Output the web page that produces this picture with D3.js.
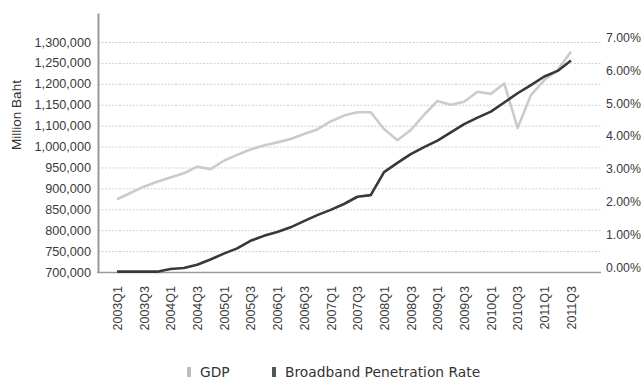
<!DOCTYPE html>
<html>
<head>
<meta charset="utf-8">
<script src="https://cdn.jsdelivr.net/npm/d3@7"></script>
<style>
  body { margin: 0; background: #fff; }
  svg { display: block; }
  .tick text { font-family: "Liberation Sans", Arial, sans-serif; }
</style>
</head>
<body>
<svg class="chart"></svg>
<script>
// quarters 2003Q1 .. 2011Q3
var quarters = ["2003Q1","2003Q2","2003Q3","2003Q4","2004Q1","2004Q2","2004Q3","2004Q4",
  "2005Q1","2005Q2","2005Q3","2005Q4","2006Q1","2006Q2","2006Q3","2006Q4",
  "2007Q1","2007Q2","2007Q3","2007Q4","2008Q1","2008Q2","2008Q3","2008Q4",
  "2009Q1","2009Q2","2009Q3","2009Q4","2010Q1","2010Q2","2010Q3","2010Q4",
  "2011Q1","2011Q2","2011Q3"];

// GDP, million baht
var gdp = [874000, 889000, 904000, 916000, 926000, 936000, 952000, 946000,
  966000, 980000, 993000, 1005000, 1020000, 1036000, 1060000, 1082000,
  1110000, 1124000, 1132000, 1132000, 1084000, 1030000, 1079000, 1126000,
  1159000, 1150000, 1157000, 1181000, 1176000, 1201000, 1089000, 1173000,
  1209000, 1233000, 1277000];

// broadband penetration rate, %
var broadband = [0.01, 0.01, 0.01, 0.01, 0.09, 0.12, 0.22, 0.38,
  0.56, 0.72, 0.95, 1.10, 1.22, 1.36, 1.55, 1.73,
  1.89, 2.07, 2.29, 2.34, 3.04, 3.32, 3.59, 3.80,
  4.00, 4.25, 4.50, 4.70, 4.88, 5.16, 5.44, 5.69,
  5.95, 6.12, 6.44];

// left axis labels as printed (no 1,050,000 in the original)
var gdpTicks = [700000, 750000, 800000, 850000, 900000, 950000, 1000000,
  1100000, 1150000, 1200000, 1250000, 1300000];
var rateTicks = [0, 1, 2, 3, 4, 5, 6, 7];
var xTicks = quarters.filter(function(d, i){ return i % 2 === 0; });

var legendItems = ["GDP", "Broadband Penetration Rate"];

var width = 641, height = 381;
var plotLeft = 98, plotRight = 601;
var bottom = 272, gridTop = 42, step = (bottom - gridTop) / (gdpTicks.length - 1);

var svg = d3.select(".chart")
  .attr("width", width)
  .attr("height", height);

var x = d3.scalePoint()
  .domain(quarters)
  .range([117, 571]);

// evenly spaced labels, so the scale is piecewise
var yLeft = d3.scaleLinear()
  .domain(gdpTicks.concat([1370000]))
  .range(gdpTicks.map(function(d, i){ return bottom - i * step; }).concat([13]));

var yRight = d3.scaleLinear()
  .domain([0, 7])
  .range([bottom, gridTop]);

//gridlines
svg.append("g")
  .selectAll("line")
  .data(gdpTicks.slice(1))
  .enter().append("line")
  .attr("x1", plotLeft)
  .attr("x2", plotRight)
  .attr("y1", function(d){ return yLeft(d) + 0.5; })
  .attr("y2", function(d){ return yLeft(d) + 0.5; })
  .attr("stroke", "#cfcfcf")
  .attr("stroke-width", 1)
  .attr("stroke-dasharray", "2,1.5");

//left axis
var leftAxis = svg.append("g")
  .attr("transform", "translate(" + plotLeft + ",0)")
  .call(d3.axisLeft(yLeft).tickValues(gdpTicks).tickSize(0).tickSizeOuter(0)
    .tickPadding(7).tickFormat(d3.format(",")));
leftAxis.select(".domain").attr("stroke", "#9a9a9a").attr("stroke-width", 2);
leftAxis.selectAll("text")
  .attr("font-size", "12.7px")
  .attr("fill", "#3a3a3a");

//right axis
var rightAxis = svg.append("g")
  .attr("transform", "translate(" + (plotRight + 5) + ",0)")
  .call(d3.axisRight(yRight).tickValues(rateTicks).tickSize(0)
    .tickFormat(function(d){ return d3.format(".2f")(d) + "%"; }));
rightAxis.select(".domain").remove();
rightAxis.selectAll("text")
  .attr("x", 0)
  .attr("font-size", "12.3px")
  .attr("fill", "#3a3a3a")
  .attr("dy", "-0.05em");

//bottom axis
var xAxis = svg.append("g")
  .attr("transform", "translate(0," + bottom + ")")
  .call(d3.axisBottom(x).tickValues(xTicks).tickSize(0));
xAxis.select(".domain").remove();
xAxis.selectAll("text")
  .style("text-anchor", "end")
  .attr("font-size", "12.5px")
  .attr("fill", "#3a3a3a")
  .attr("y", 0)
  .attr("dy", ".35em")
  .attr("transform", "translate(0,14) rotate(-90)");

svg.append("line")
  .attr("x1", plotLeft - 1)
  .attr("x2", plotRight)
  .attr("y1", bottom + 0.5)
  .attr("y2", bottom + 0.5)
  .attr("stroke", "#9a9a9a")
  .attr("stroke-width", 1.5);

//lines
var gdpLine = d3.line()
  .x(function(d, i){ return x(quarters[i]); })
  .y(function(d){ return yLeft(d); });

var rateLine = d3.line()
  .x(function(d, i){ return x(quarters[i]); })
  .y(function(d){ return yRight(d); });

svg.append("path")
  .datum(gdp)
  .attr("d", gdpLine)
  .attr("fill", "none")
  .attr("stroke", "#cbcbcb")
  .attr("stroke-width", 2.6)
  .attr("stroke-linejoin", "round");

svg.append("path")
  .datum(broadband)
  .attr("d", rateLine)
  .attr("fill", "none")
  .attr("stroke", "#383838")
  .attr("stroke-width", 2.6)
  .attr("stroke-linejoin", "round");

//axis title
svg.append("text")
  .attr("transform", "translate(20.5,115) rotate(-90)")
  .attr("text-anchor", "middle")
  .attr("font-family", "Liberation Sans, Arial, sans-serif")
  .attr("font-size", "13.5px")
  .attr("fill", "#333")
  .text("Million Baht");

//legend
var legendX = [187, 272];
var legendColor = ["#bdbdbd", "#555"];
var legend = svg.append("g")
  .selectAll("g")
  .data(legendItems)
  .enter().append("g")
  .attr("transform", function(d, i){ return "translate(" + legendX[i] + ",372)"; });
legend.append("rect")
  .attr("x", 0)
  .attr("y", -5)
  .attr("width", 4)
  .attr("height", 10)
  .attr("fill", function(d, i){ return legendColor[i]; });
legend.append("text")
  .attr("x", 13)
  .attr("y", 5)
  .attr("font-family", "DejaVu Sans, sans-serif")
  .attr("font-size", "13.8px")
  .attr("fill", "#333")
  .text(function(d){ return d; });
</script>
</body>
</html>
